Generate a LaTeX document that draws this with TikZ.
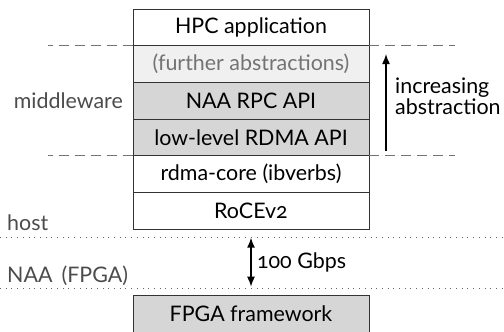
\documentclass[tikz,border=0pt]{standalone}
\usepackage{fontspec}
\setmainfont[Numbers=OldStyle]{Lato}
\usetikzlibrary{positioning}
\usetikzlibrary{arrows.meta}

\begin{document}
\begin{tikzpicture}[x=1bp, y=-1bp,
  layer/.style={draw=black!80, line width=0.8bp, minimum width=236bp, minimum height=36.7bp,
    outer sep=0pt, inner sep=0pt, font=\fontsize{21.5}{24}\selectfont},
  light/.style={layer, fill=black!6, text=black!55},
  dark/.style={layer, fill=black!16},
  side/.style={font=\fontsize{21.5}{19}\selectfont, text=black!70, inner sep=0pt},
  sep/.style={black!55, line width=0.8bp, dash pattern=on 10bp off 6bp},
  link/.style={black!60, line width=0.8bp, dash pattern=on 0.8bp off 4.9bp},
  arr/.style={line width=1.5bp, -{Latex[length=10bp, width=8bp]}}]
  \useasboundingbox (0,0) rectangle (504,331);

  \node[layer] (hpc) at (251,27.3) {HPC application};
  \node[light, below=0pt of hpc] (further) {(further abstractions)};
  \node[dark, below=0pt of further] (rpc) {NAA RPC API};
  \node[dark, below=0pt of rpc] (lowlevel) {low-level RDMA API};
  \node[layer, below=0pt of lowlevel] (core) {rdma-core (ibverbs)};
  \node[layer, below=0pt of core] (roce) {RoCEv2};
  \node[dark, anchor=north] (fpga) at (251,295.7) {FPGA framework};

  \draw[sep] (hpc.south west) -- +(-85,0);
  \draw[sep] (hpc.south east) -- +(86,0);
  \draw[sep] (lowlevel.south west) -- +(-85,0);
  \draw[sep] (lowlevel.south east) -- +(86,0);
  \draw[link] (0,237.7) -- (504,237.7);
  \draw[link] (0,288.5) -- (504,288.5);

  \node[side, left=10bp of rpc] (middleware) {middleware};
  \node[side, anchor=base west] (host) at (7,230.5) {host};
  \node[side, anchor=base west] (naa) at (7,282.5) {NAA\, (FPGA)};

  \coordinate (abslow) at (386,151);
  \coordinate (abshigh) at (386,54);
  \draw[arr] (abslow) -- (abshigh);
  \node[side, text=black, align=left, anchor=base west]
    (increase) at (395,114) {increasing\\abstraction};

  \draw[line width=1.5bp, {Latex[length=10bp, width=8bp]}-{Latex[length=10bp, width=8bp]},
    shorten <=8.5bp, shorten >=9bp] (roce.south) -- (fpga.north)
    node[midway, right=2bp, font=\fontsize{21.5}{24}\selectfont] (speed) {100 Gbps};
\end{tikzpicture}
\end{document}
